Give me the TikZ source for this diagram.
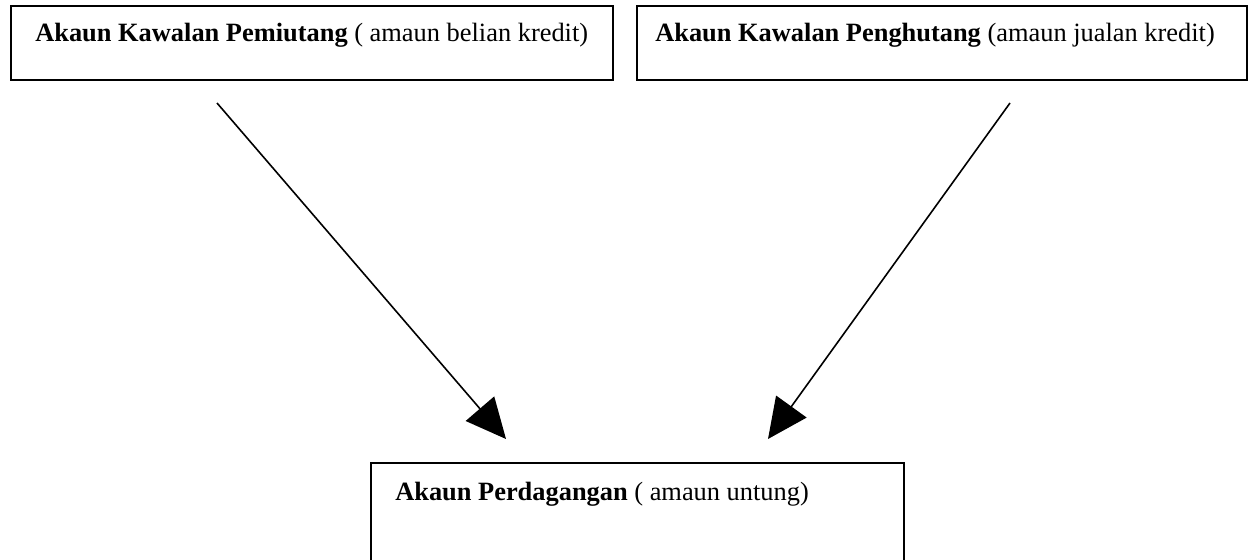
\documentclass[tikz,border=0pt]{standalone}
\usepackage{fontspec}
\setmainfont{Liberation Serif}
\usetikzlibrary{arrows.meta}
\begin{document}
\begin{tikzpicture}[x=0.75pt,y=-0.75pt,
  box/.style={draw,line width=1.6pt,inner sep=0pt},
  lbl/.style={anchor=west,inner sep=0pt,font=\fontsize{19.8}{23}\selectfont},
  conn/.style={line width=1.2pt,-{Triangle[length=30pt,width=28pt]}}]
\useasboundingbox (0,0) rectangle (1260,560);
\node[box,minimum width=602*0.75pt,minimum height=74*0.75pt,anchor=north west] (bl) at (10,5) {};
\node[box,minimum width=610*0.75pt,minimum height=74*0.75pt,anchor=north west] (br) at (636,5) {};
\node[box,minimum width=533*0.75pt,minimum height=110*0.75pt,anchor=north west] (bb) at (370,462) {};
\node[lbl] (tl) at (35,35) {\textbf{Akaun Kawalan Pemiutang} ( amaun belian kredit)};
\node[lbl] (tr) at (655,35) {\textbf{Akaun Kawalan Penghutang} (amaun jualan kredit)};
\node[lbl] (tb) at (395,494) {\textbf{Akaun Perdagangan} ( amaun untung)};
\coordinate (s1) at (217,103);
\coordinate (e1) at (506,439);
\coordinate (s2) at (1010,103);
\coordinate (e2) at (768,439);
\draw[conn] (s1) -- (e1);
\draw[conn] (s2) -- (e2);
\end{tikzpicture}
\end{document}
